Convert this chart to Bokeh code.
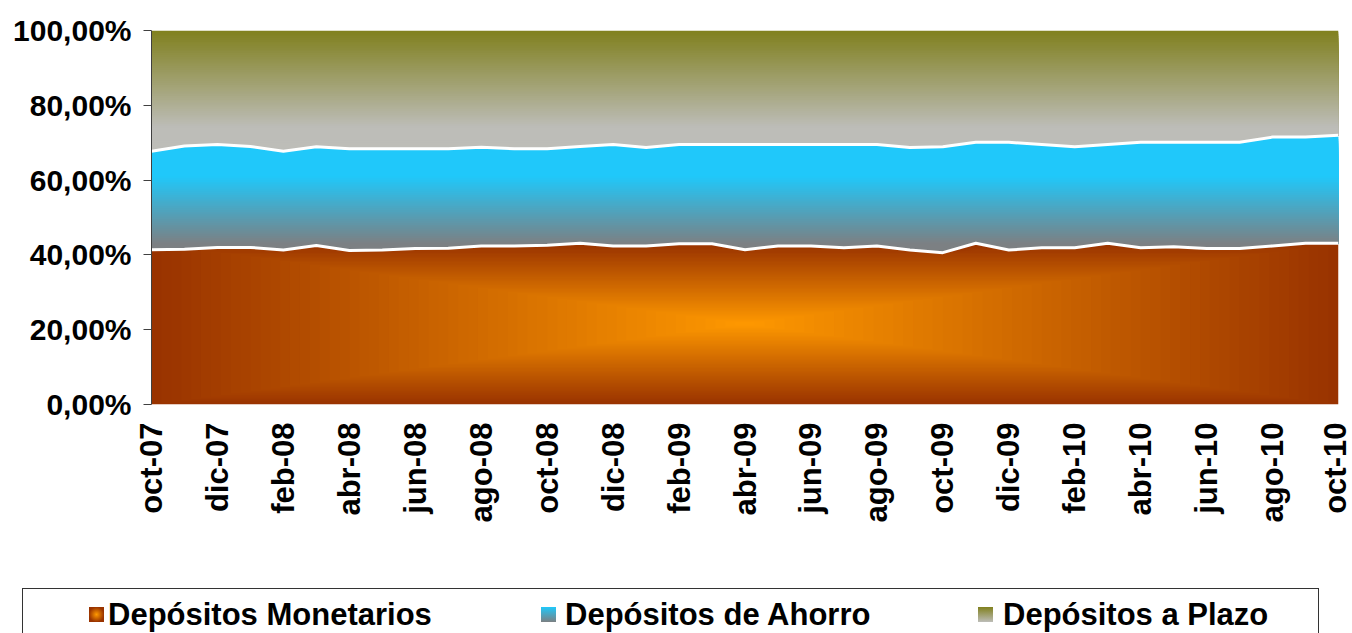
import numpy as np
from bokeh.plotting import figure
from bokeh.layouts import column
from bokeh.models import Range1d, FixedTicker, Div
from bokeh.embed import file_html
from bokeh.resources import INLINE

# ---------------- data ----------------
months = ["oct-07", "nov-07", "dic-07", "ene-08", "feb-08", "mar-08", "abr-08", "may-08",
          "jun-08", "jul-08", "ago-08", "sep-08", "oct-08", "nov-08", "dic-08", "ene-09",
          "feb-09", "mar-09", "abr-09", "may-09", "jun-09", "jul-09", "ago-09", "sep-09",
          "oct-09", "nov-09", "dic-09", "ene-10", "feb-10", "mar-10", "abr-10", "may-10",
          "jun-10", "jul-10", "ago-10", "sep-10", "oct-10"]

monetarios = [41.4, 41.5, 42.0, 42.0, 41.3, 42.5, 41.2, 41.3, 41.7, 41.8, 42.4, 42.4,
              42.6, 43.1, 42.4, 42.4, 43.0, 43.0, 41.4, 42.4, 42.4, 41.9, 42.4, 41.3,
              40.6, 43.1, 41.3, 41.9, 41.9, 43.1, 41.9, 42.2, 41.7, 41.7, 42.4, 43.1, 43.1]
ahorro = [26.3, 27.6, 27.5, 27.0, 26.4, 26.4, 27.2, 27.1, 26.7, 26.6, 26.4, 26.0,
          25.8, 25.9, 27.1, 26.3, 26.5, 26.5, 28.1, 27.1, 27.1, 27.6, 27.1, 27.4,
          28.3, 27.0, 28.8, 27.6, 27.0, 26.4, 28.2, 27.9, 28.4, 28.4, 29.1, 28.4, 28.9]
plazo = [32.3, 30.9, 30.5, 31.0, 32.3, 31.1, 31.6, 31.6, 31.6, 31.6, 31.2, 31.6,
         31.6, 31.0, 30.5, 31.3, 30.5, 30.5, 30.5, 30.5, 30.5, 30.5, 30.5, 31.3,
         31.1, 29.9, 29.9, 30.5, 31.1, 30.5, 29.9, 29.9, 29.9, 29.9, 28.5, 28.5, 28.0]

series_names = ["Depósitos Monetarios", "Depósitos de Ahorro", "Depósitos a Plazo"]
y_ticks = [0, 20, 40, 60, 80, 100]
y_tick_labels = ["0,00%", "20,00%", "40,00%", "60,00%", "80,00%", "100,00%"]
x_tick_step = 2

# ---------------- stacking (100%) ----------------
m = np.array(monetarios, float)
a = np.array(ahorro, float)
pz = np.array(plazo, float)
tot = m + a + pz
c1 = m / tot * 100.0
c2 = (m + a) / tot * 100.0
c3 = np.full_like(c1, 100.0)
x = np.arange(len(months), dtype=float)


def hexcol(rgb):
    return "#%02x%02x%02x" % tuple(int(round(v)) for v in rgb)


def lerp(c_a, c_b, t):
    return hexcol([c_a[i] + (c_b[i] - c_a[i]) * t for i in range(3)])


ORANGE = (255, 153, 0)
BROWN = (153, 51, 0)
CYAN = (32, 200, 250)
GRAY_A = (124, 128, 131)
OLIVE = (128, 128, 30)
GRAY_P = (189, 189, 184)
FONT = "Liberation Sans"

p = figure(width=1352, height=588, x_range=Range1d(0, 36), y_range=Range1d(0, 100),
           output_backend="svg", toolbar_location=None,
           min_border_left=151, min_border_right=14, min_border_top=30, min_border_bottom=184)
p.background_fill_color = "white"
p.border_fill_color = "white"
p.outline_line_color = None
p.xgrid.grid_line_color = None
p.ygrid.grid_line_color = None

# ---- Monetarios: rectangular "from centre" gradient, nested clipped regions ----
cx = (x[0] + x[-1]) / 2.0
hw = cx - x[0]
cy = c1.max() / 2.0
hh = cy
N = 60
for k in range(N):
    s = 1.0 - k / N
    xl, xr = cx - s * hw, cx + s * hw
    inner = x[(x > xl) & (x < xr)]
    xs = np.concatenate([[xl], inner, [xr]])
    tops = np.interp(xs, x, c1)
    y1 = np.full_like(xs, cy - s * hh)
    y2 = np.maximum(np.minimum(tops, cy + s * hh), y1)
    p.varea(x=xs, y1=y1, y2=y2, fill_color=lerp(ORANGE, BROWN, s), fill_alpha=1.0)


# ---- vertical gradient for the other two series: nested regions drawn top-down ----
def bands(lo_arr, hi_arr, y_start, y_end, step, colfn):
    edges = np.arange(y_start, y_end + 1e-9, step)
    if edges[-1] < y_end:
        edges = np.append(edges, y_end)
    for e0, e1 in reversed(list(zip(edges[:-1], edges[1:]))):
        hi = np.maximum(np.minimum(hi_arr, e1), lo_arr)
        if np.all(hi - lo_arr <= 1e-9):
            continue
        p.varea(x=x, y1=lo_arr, y2=hi, fill_color=colfn((e0 + e1) / 2.0), fill_alpha=1.0)


def col_ahorro(y):
    t = np.clip((y - 43.0) / (61.0 - 43.0), 0, 1)
    return lerp(GRAY_A, CYAN, t)


def col_plazo(y):
    t = np.clip((y - 74.0) / (100.0 - 74.0), 0, 1)
    return lerp(GRAY_P, OLIVE, t)


bands(c1, c2, np.floor(c1.min()), np.ceil(c2.max()), 0.5, col_ahorro)
bands(c2, c3, np.floor(c2.min()), 100.0, 0.5, col_plazo)

# white separator lines
p.line(x, c1, line_color="white", line_width=3)
p.line(x, c2, line_color="white", line_width=3)

# ---------------- axes ----------------
yax = p.yaxis[0]
yax.ticker = FixedTicker(ticks=y_ticks)
yax.major_label_overrides = {t: l for t, l in zip(y_ticks, y_tick_labels)}
yax.major_label_text_font = FONT
yax.major_label_text_font_style = "bold"
yax.major_label_text_font_size = "30px"
yax.major_label_text_color = "black"
yax.major_tick_out = 8
yax.major_tick_in = 0
yax.minor_tick_line_color = None
yax.axis_line_color = "#404040"
yax.major_tick_line_color = "#404040"
yax.major_label_standoff = 12

xax = p.xaxis[0]
xt = list(range(0, len(months), x_tick_step))
xax.ticker = FixedTicker(ticks=xt)
xax.major_label_overrides = {i: months[i] for i in xt}
xax.major_label_orientation = np.pi / 2
xax.major_label_text_font = FONT
xax.major_label_text_font_style = "bold"
xax.major_label_text_font_size = "31px"
xax.major_label_text_color = "black"
xax.major_tick_out = 0
xax.major_tick_in = 0
xax.minor_tick_line_color = None
xax.axis_line_color = None
xax.major_label_standoff = 18

# ---------------- legend strip (HTML, below the chart) ----------------
marker_bg = [
    "radial-gradient(closest-side, %s, %s)" % (hexcol(ORANGE), hexcol(BROWN)),
    "linear-gradient(to bottom, %s, %s)" % (hexcol(CYAN), hexcol(GRAY_A)),
    "linear-gradient(to bottom, %s, %s)" % (hexcol(OLIVE), hexcol(GRAY_P)),
]
marker_left = [89, 541, 978]
text_left = [108, 565, 1003]

parts = ['<div style="position:relative;width:1352px;height:45px;overflow:hidden;'
         'background:white;font-family:\'%s\',Arial,sans-serif;font-weight:bold;'
         'font-size:31px;color:#000;">' % FONT,
         '<div style="position:absolute;left:22px;top:0px;width:1297px;height:90px;'
         'box-sizing:border-box;border:1px solid #333333;"></div>']
for name, bg, ml, tl in zip(series_names, marker_bg, marker_left, text_left):
    parts.append('<div style="position:absolute;left:%dpx;top:19px;width:15px;height:15px;'
                 'background:%s;"></div>' % (ml, bg))
    parts.append('<span style="position:absolute;left:%dpx;top:11px;line-height:31px;'
                 'white-space:nowrap;">%s</span>' % (tl, name))
parts.append('</div>')

legend_div = Div(text="".join(parts), width=1352, height=45,
                 styles={"margin": "0", "padding": "0", "overflow": "hidden"})

layout = column(p, legend_div, spacing=0)
open("out.html", "w").write(file_html(layout, INLINE))
